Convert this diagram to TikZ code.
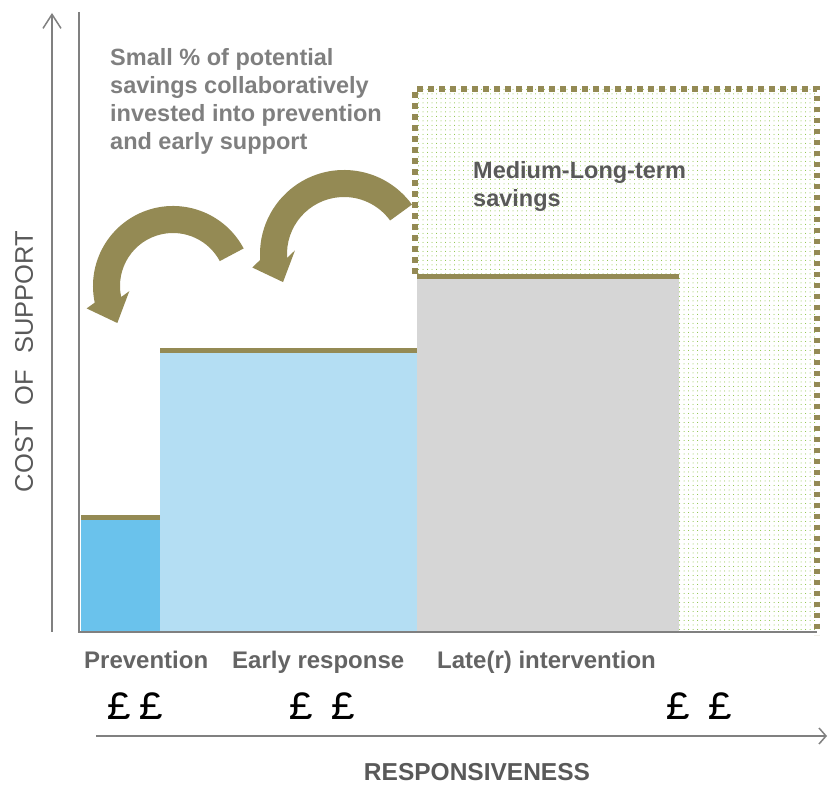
\documentclass[tikz,border=0pt]{standalone}
\usepackage{fontspec}
\setmainfont{Liberation Sans}
\newfontfamily\poundfont{Liberation Mono}
\usetikzlibrary{arrows.meta,calc,patterns.meta}
\definecolor{olivec}{HTML}{948A54}
\definecolor{prevblue}{HTML}{6AC2EC}
\definecolor{earlyblue}{HTML}{B4DEF3}
\definecolor{lategray}{HTML}{D6D6D6}
\definecolor{axisgray}{HTML}{808080}
\definecolor{notegray}{HTML}{7F7F7F}
\definecolor{darkgraytxt}{HTML}{595959}
\definecolor{labelgray}{HTML}{646464}
\definecolor{dotgreen}{HTML}{7DBB2E}
\tikzdeclarepattern{name=sdots, type=uncolored,
  bounding box={(-0.6pt,-0.6pt) and (0.6pt,0.6pt)},
  tile size={(4.5pt,4.5pt)},
  code={\fill (0pt,0pt) circle (0.5pt);}}
\newcommand\oliveArrow[7]{%
  \fill[olivec] ($(#1,#2)+(#5:#3)$) arc[start angle=#5, end angle=#6, radius=#3]
   -- ($(#1,#2)+(#6:{(#3+#4)/2})+({#7-90}:23)$)
   -- ($(#1,#2)+(#6:{(#3+#4)/2})+(#7:25)$)
   -- ($(#1,#2)+(#6:{(#3+#4)/2})+({#7+90}:23)$)
   -- ($(#1,#2)+(#6:#4)$) arc[start angle=#6, end angle=#5, radius=#4] -- cycle;}
\begin{document}
\begin{tikzpicture}[x=1pt,y=1pt,
  axis/.style={draw=axisgray, line width=1.5pt},
  lbl/.style={font=\fontsize{24}{28}\selectfont\bfseries, text=labelgray, inner sep=0pt},
  note/.style={font=\fontsize{23.5}{28}\selectfont\bfseries, inner sep=0pt, align=left},
  pound/.style={font=\poundfont\fontsize{40}{40}\selectfont, inner sep=0pt, text=black},
]
\useasboundingbox (0,0) rectangle (828,787);
% savings region
\fill[pattern={sdots}, pattern color=dotgreen] (415,513) -- (415,698) -- (817,698) -- (817,155) -- (679,155) -- (679,513) -- cycle;
% bars
\fill[prevblue] (81,155) rectangle (160,267);
\fill[olivec] (81,267) rectangle (160,272);
\fill[earlyblue] (160,155) rectangle (417,434);
\fill[olivec] (160,434) rectangle (417,439);
\fill[lategray] (417,155) rectangle (679,508);
\fill[olivec] (417,508) rectangle (679,513);
% dotted border
\draw[olivec, line width=5.5pt, dash pattern=on 5.5pt off 5.5pt] (415,513) -- (415,698) -- (817,698) -- (817,152);
% axes
\coordinate (yaxB) at (52,155);
\coordinate (yaxT) at (52,774);
\draw[axis, -{Straight Barb[length=14pt,width=18pt]}] (yaxB) -- (yaxT);
\coordinate (frameT) at (79,775);
\coordinate (frameO) at (79,155);
\coordinate (frameR) at (817,155);
\draw[axis] (frameT) -- (frameO) -- (frameR);
\coordinate (xaxL) at (96,51);
\coordinate (xaxR) at (827,51);
\draw[axis, -{Straight Barb[length=7pt,width=16pt]}] (xaxL) -- (xaxR);
% curved arrows
\oliveArrow{173}{501}{80}{53}{28}{192}{292}
\oliveArrow{344}{533}{84}{57}{36}{184}{292}
% texts
\node[note, text=notegray, anchor=north west] (note) at (110,739) {Small \% of potential\\savings collaboratively\\invested into prevention\\and early support};
\node[note, text=darkgraytxt, anchor=north west] (sav) at (473,626) {Medium-Long-term\\savings};
\node[lbl, anchor=base west] (prev) at (84,118) {Prevention};
\node[lbl, anchor=base west] (early) at (232,118) {Early response};
\node[lbl, anchor=base west] (late) at (437,118) {Late(r) intervention};
\node[pound, anchor=base] (p1) at (136,67) {£\hspace{8pt}£};
\node[pound, anchor=base] (p2) at (323,67) {£\hspace{18pt}£};
\node[pound, anchor=base] (p3) at (699,67) {£\hspace{18pt}£};
\node[font=\fontsize{25.5}{25.5}\selectfont, text=darkgraytxt, rotate=90, inner sep=0pt] (ylab) at (24,425.5) {COST\hspace{16pt}OF\hspace{16pt}SUPPORT};
\node[font=\fontsize{24.5}{24.5}\selectfont\bfseries, text=darkgraytxt, anchor=base, inner sep=0pt] (xlab) at (477,6.5) {RESPONSIVENESS};
\end{tikzpicture}
\end{document}
